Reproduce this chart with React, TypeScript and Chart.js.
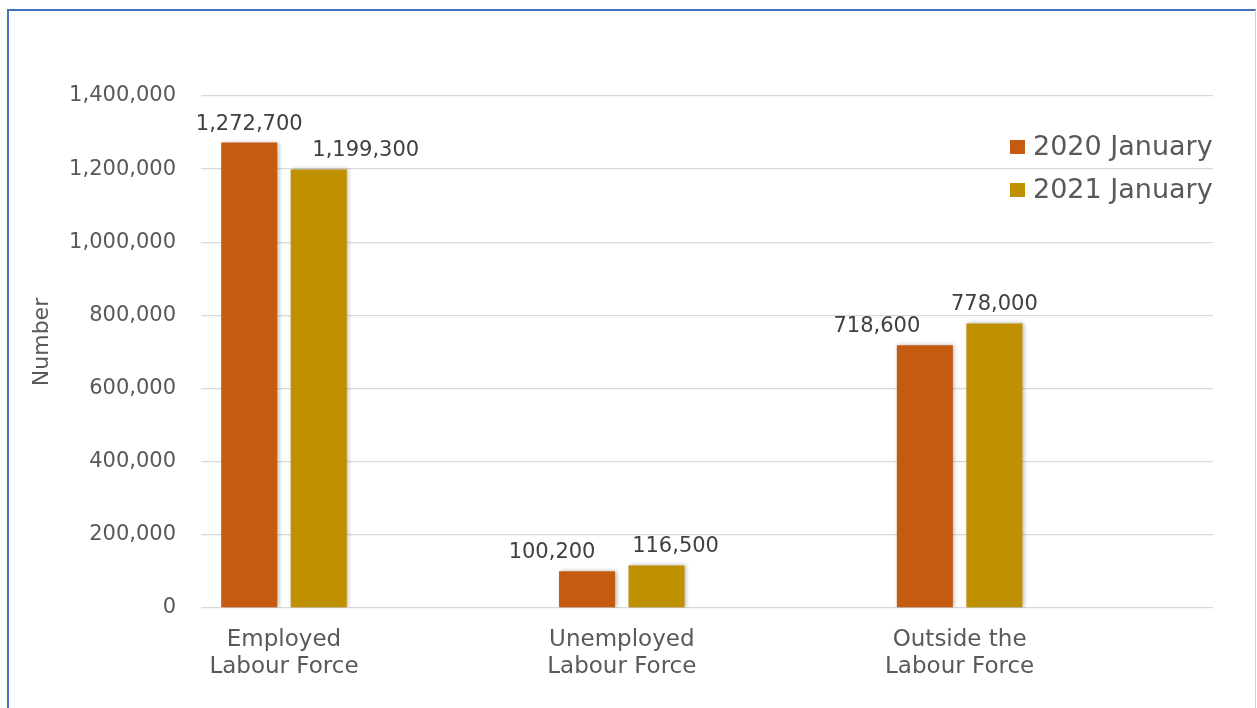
import React, { useEffect, useRef } from "react";
import { Chart, registerables } from "chart.js";

Chart.register(...registerables);

const categories: string[][] = [
  ["Employed", "Labour Force"],
  ["Unemployed", "Labour Force"],
  ["Outside the", "Labour Force"],
];
const seriesNames = ["2020 January", "2021 January"];
const values2020 = [1272700, 100200, 718600];
const values2021 = [1199300, 116500, 778000];
const yTicks = [0, 200000, 400000, 600000, 800000, 1000000, 1200000, 1400000];

const COLORS = ["#C55A11", "#BF9000"];
const TEXT = "#595959";
const FONT = "'DejaVu Sans', sans-serif";
// label x nudges (px) relative to bar centre, mimicking the reference's label placement
const LABEL_NUDGE = [
  [0, -35, -48],
  [47, 19, 0],
];

const fmt = (v: number) => v.toLocaleString("en-US");

const decorPlugin = {
  id: "decor",
  beforeDatasetsDraw(chart: any) {
    const ctx = chart.ctx;
    ctx.save();
    ctx.shadowColor = "rgba(0,0,0,0.28)";
    ctx.shadowBlur = 4;
    ctx.shadowOffsetX = 1.5;
    ctx.shadowOffsetY = 0;
  },
  afterDatasetsDraw(chart: any) {
    const ctx = chart.ctx;
    ctx.restore();
    ctx.save();
    ctx.font = `21px ${FONT}`;
    ctx.fillStyle = "#404040";
    ctx.textAlign = "center";
    ctx.textBaseline = "alphabetic";
    chart.data.datasets.forEach((ds: any, di: number) => {
      const meta = chart.getDatasetMeta(di);
      meta.data.forEach((bar: any, i: number) => {
        const v = ds.data[i].y;
        ctx.fillText(fmt(v), bar.x + LABEL_NUDGE[di][i], bar.y - 13);
      });
    });
    ctx.restore();
  },
  afterDraw(chart: any) {
    const ctx = chart.ctx;
    const area = chart.chartArea;
    ctx.save();
    // y axis title
    ctx.font = `22px ${FONT}`;
    ctx.fillStyle = TEXT;
    ctx.textAlign = "center";
    ctx.textBaseline = "middle";
    ctx.translate(42, 342);
    ctx.rotate(-Math.PI / 2);
    ctx.fillText("Number", 0, 0);
    ctx.restore();
    // legend
    ctx.save();
    ctx.font = `27px ${FONT}`;
    ctx.textBaseline = "middle";
    ctx.textAlign = "left";
    seriesNames.forEach((name, i) => {
      const cy = area.top + 51 + i * 43;
      ctx.fillStyle = COLORS[i];
      ctx.fillRect(area.right - 203, cy - 7, 15, 14);
      ctx.fillStyle = TEXT;
      ctx.fillText(name, area.right - 180, cy + 1);
    });
    ctx.restore();
  },
};

export default function App() {
  const ref = useRef<HTMLCanvasElement | null>(null);
  useEffect(() => {
    if (!ref.current) return;
    const chart = new Chart(ref.current, {
      type: "bar",
      data: {
        datasets: [
          {
            label: seriesNames[0],
            data: values2020.map((v, i) => ({ x: i, y: v })),
            backgroundColor: COLORS[0],
          },
          {
            label: seriesNames[1],
            data: values2021.map((v, i) => ({ x: i, y: v })),
            backgroundColor: COLORS[1],
          },
        ],
      },
      options: {
        animation: false,
        responsive: false,
        categoryPercentage: 0.4115,
        barPercentage: 0.806,
        layout: { padding: { top: 96, right: 44, left: 0, bottom: 0 } },
        plugins: {
          legend: { display: false },
          tooltip: { enabled: false },
        },
        scales: {
          x: {
            type: "linear",
            min: -0.2456,
            max: 2.75,
            offset: false,
            grid: { display: false, offset: false },
            border: { display: false },
            afterBuildTicks: (scale: any) => {
              scale.ticks = categories.map((_, i) => ({ value: i }));
            },
            afterFit: (scale: any) => {
              scale.height = 100;
            },
            ticks: {
              autoSkip: false,
              maxRotation: 0,
              padding: 10,
              color: TEXT,
              font: { family: FONT, size: 23, lineHeight: 1.2 },
              callback: (v: any) => categories[Math.round(Number(v))] ?? "",
            },
          },
          y: {
            min: 0,
            max: yTicks[yTicks.length - 1],
            afterBuildTicks: (scale: any) => {
              scale.ticks = yTicks.map((v) => ({ value: v }));
            },
            afterFit: (scale: any) => {
              scale.width = 201;
            },
            grid: { color: "#D9D9D9", lineWidth: 1.3, drawTicks: false },
            border: { display: false },
            ticks: {
              padding: 25,
              color: TEXT,
              font: { family: FONT, size: 21 },
              callback: (v: any) => fmt(Number(v)),
            },
          },
        },
      },
      plugins: [decorPlugin],
    } as any);
    return () => chart.destroy();
  }, []);

  return (
    <div style={{ position: "fixed", left: 0, top: 0, width: 1257, height: 708, background: "#fff" }}>
      <canvas ref={ref} width={1257} height={708} style={{ display: "block" }} />
      <div
        style={{
          position: "absolute",
          left: 7,
          top: 9,
          width: 1246,
          height: 720,
          borderLeft: "2px solid #4472C4",
          borderTop: "2px solid #4472C4",
          borderRight: "1px solid #D0D0D0",
          pointerEvents: "none",
        }}
      />
    </div>
  );
}
